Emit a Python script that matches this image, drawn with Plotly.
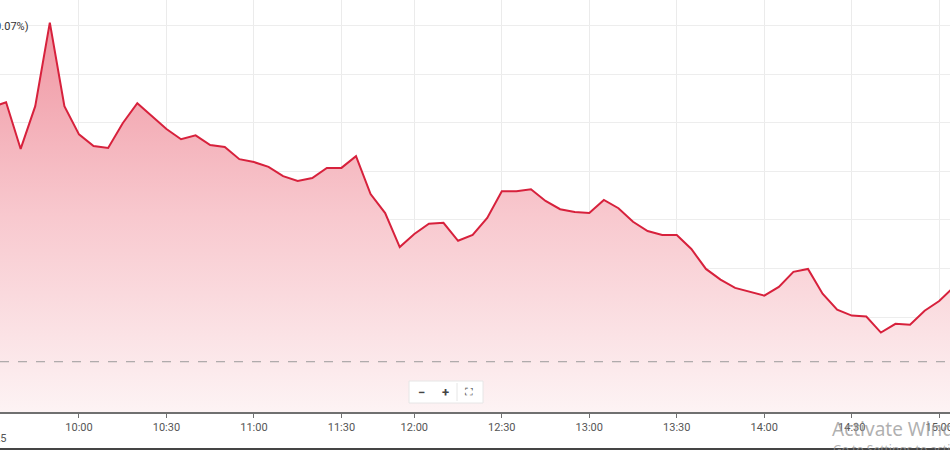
import plotly.graph_objects as go

# ---- data ----
times = ["09:30", "09:35", "09:40", "09:45", "09:50", "09:55",
         "10:00", "10:05", "10:10", "10:15", "10:20", "10:25",
         "10:30", "10:35", "10:40", "10:45", "10:50", "10:55",
         "11:00", "11:05", "11:10", "11:15", "11:20", "11:25",
         "11:30", "11:40", "11:45", "11:50", "11:55",
         "12:00", "12:05", "12:10", "12:15", "12:20", "12:25",
         "12:30", "12:35", "12:40", "12:45", "12:50", "12:55",
         "13:00", "13:05", "13:10", "13:15", "13:20", "13:25",
         "13:30", "13:35", "13:40", "13:45", "13:50", "13:55",
         "14:00", "14:05", "14:10", "14:15", "14:20", "14:25",
         "14:30", "14:35", "14:40", "14:45", "14:50", "14:55",
         "15:00", "15:05"]
prices = [25.32, 25.42, 24.46, 25.34, 27.06, 25.34,
          24.76, 24.52, 24.48, 24.99, 25.40, 25.13,
          24.87, 24.66, 24.74, 24.54, 24.50, 24.25,
          24.19, 24.09, 23.90, 23.80, 23.86, 24.07,
          24.07, 24.31, 23.53, 23.14, 22.44,
          22.71, 22.92, 22.94, 22.57, 22.69, 23.04,
          23.59, 23.59, 23.63, 23.39, 23.22, 23.16,
          23.14, 23.41, 23.24, 22.96, 22.77, 22.69,
          22.69, 22.40, 21.99, 21.77, 21.60, 21.52,
          21.44, 21.62, 21.93, 21.99, 21.48, 21.15,
          21.03, 21.01, 20.68, 20.86, 20.84, 21.13,
          21.33, 21.62]
prev_close = 20.08
tick_labels = ["10:00", "10:30", "11:00", "11:30", "12:00", "12:30",
               "13:00", "13:30", "14:00", "14:30", "15:00"]
header_text = "20.10 (0.07%)"
date_text = "07/03/2025"

W, H = 950, 450
plot_bottom = 412  # pixel of x-axis line


def px_x(x):
    return x / W


def px_y(y):
    return (plot_bottom - y) / plot_bottom


fig = go.Figure()
fig.add_trace(go.Scatter(
    x=times, y=prices, mode="lines",
    line=dict(color="#d7213c", width=2),
    fill="tozeroy",
    fillgradient=dict(type="vertical",
                      colorscale=[[0, "rgba(253,243,244,1)"],
                                  [0.5, "rgba(248,200,206,1)"],
                                  [1, "rgba(239,148,160,1)"]],
                      start=19.045, stop=27.2),
    hoverinfo="x+y",
    showlegend=False,
))

fig.add_hline(y=prev_close, line=dict(color="#9a9a9a", width=1, dash="dash"))

fig.update_layout(
    width=W, height=H,
    margin=dict(l=0, r=0, t=0, b=H - plot_bottom, pad=0, autoexpand=False),
    paper_bgcolor="white", plot_bgcolor="white",
    font=dict(family="Roboto, Arial, sans-serif", size=11, color="#555"),
    xaxis=dict(
        type="category",
        range=[0.583, 65.74],
        tickmode="array", tickvals=tick_labels, ticktext=tick_labels,
        showgrid=True, gridcolor="#ebebeb", gridwidth=1,
        showline=True, linecolor="#707070", linewidth=1.5,
        ticks="outside", ticklen=4, tickcolor="#707070",
        tickfont=dict(size=11, color="#555"),
        zeroline=False, fixedrange=True, automargin=False,
    ),
    yaxis=dict(
        range=[19.045, 27.526],
        dtick=1, tick0=20,
        showgrid=True, gridcolor="#ededed", gridwidth=1,
        showticklabels=False, zeroline=False, showline=False,
        fixedrange=True, automargin=False,
    ),
    shapes=[
        dict(type="line", xref="paper", yref="paper",
             x0=0, x1=1, y0=px_y(1), y1=px_y(1),
             line=dict(color="#d0d0d0", width=1.5)),
        dict(type="line", xref="paper", yref="paper",
             x0=0, x1=1, y0=px_y(449), y1=px_y(449),
             line=dict(color="#454545", width=2)),
        dict(type="rect", xref="paper", yref="paper",
             x0=px_x(409), x1=px_x(483), y0=px_y(403), y1=px_y(381),
             fillcolor="white", line=dict(color="#e6e6e6", width=1)),
        dict(type="line", xref="paper", yref="paper",
             x0=px_x(457), x1=px_x(457), y0=px_y(401), y1=px_y(383),
             line=dict(color="#e6e6e6", width=1)),
    ],
    annotations=[
        dict(xref="paper", yref="paper", x=px_x(30.5), y=px_y(27),
             xanchor="right", yanchor="middle", showarrow=False,
             text=header_text, font=dict(size=11, color="#333")),
        dict(xref="paper", yref="paper", x=px_x(8.5), y=px_y(438),
             xanchor="right", yanchor="middle", showarrow=False,
             text=date_text, font=dict(size=11, color="#555")),
        dict(xref="paper", yref="paper", x=px_x(421), y=px_y(392),
             xanchor="center", yanchor="middle", showarrow=False,
             text="<b>−</b>", font=dict(size=13, color="#444")),
        dict(xref="paper", yref="paper", x=px_x(445), y=px_y(392),
             xanchor="center", yanchor="middle", showarrow=False,
             text="<b>+</b>", font=dict(size=13, color="#444")),
        dict(xref="paper", yref="paper", x=px_x(469), y=px_y(392),
             xanchor="center", yanchor="middle", showarrow=False,
             text="⛶", font=dict(family="DejaVu Sans", size=11, color="#444")),
        dict(xref="paper", yref="paper", x=px_x(830), y=px_y(429),
             xanchor="left", yanchor="middle", showarrow=False,
             text="Activate Windows",
             font=dict(family="Noto Sans, Open Sans, sans-serif", size=19,
                       color="rgba(150,150,150,0.75)")),
        dict(xref="paper", yref="paper", x=px_x(831), y=px_y(449),
             xanchor="left", yanchor="middle", showarrow=False,
             text="Go to Settings to activate Windows.",
             font=dict(family="Noto Sans, Open Sans, sans-serif", size=12,
                       color="rgba(150,150,150,0.75)")),
    ],
)

fig.write_html("out.html",
               config={"displayModeBar": False},
               post_script="document.body.style.margin='0';"
                           "document.body.style.overflow='hidden';")
